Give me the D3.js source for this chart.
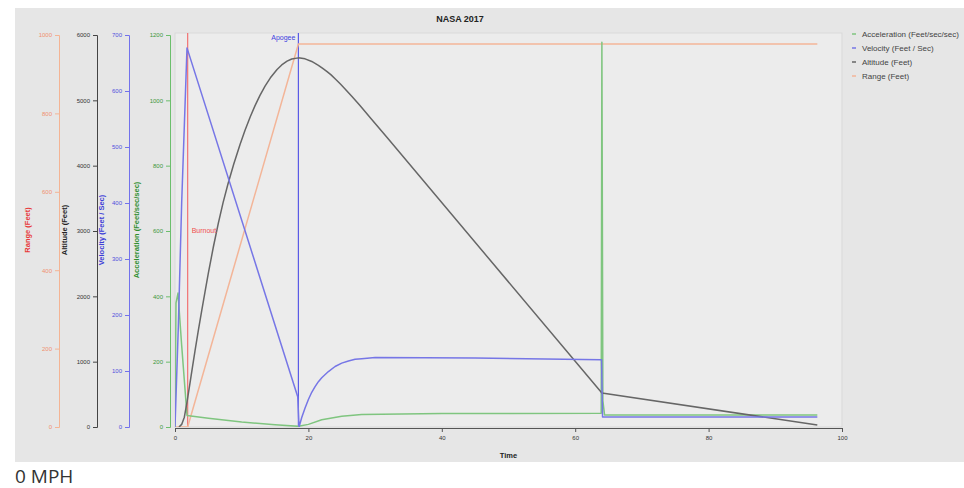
<!DOCTYPE html>
<html>
<head>
<meta charset="utf-8">
<script src="https://cdn.jsdelivr.net/npm/d3@7"></script>
<style>
body { margin: 0; background: #fff; font-family: "Liberation Sans", Arial, sans-serif; }
.mph { position: absolute; left: 15px; top: 463px; font-family: "Open Sans", sans-serif; font-size: 19px; color: #333; }
</style>
</head>
<body>
<div id="chart"></div>
<div class="mph">0 MPH</div>
<script>
var fw = 964, fh = 488;

// series data (time in seconds)
var accTime = [0, 0.15, 0.45, 1.0, 1.8, 5, 10, 15, 18.5, 20, 22, 25, 28, 40, 63.9, 64.0, 64.15, 64.4, 80, 96.3];
var accVals = [0, 380, 410, 250, 35, 27, 15, 7, 2, 8, 22, 33, 38, 41, 42, 1178, 80, 37, 37, 37];

var velTime = [0, 0.5, 1.0, 1.8, 18.4, 18.6, 19, 19.5, 20, 20.5, 21, 21.5, 22, 23, 24, 25, 26, 27, 28, 30, 45, 63.95, 64.1, 80, 96.3];
var velVals = [0, 180, 400, 677, 54, 0, 17, 34, 49, 62, 72, 81, 88, 99, 108, 114, 118, 121, 122, 124, 123, 120, 18, 18, 18];

var altTime = [0.6, 1.0, 1.4, 1.8, 2.2, 2.6, 3, 3.5, 4, 4.5, 5, 5.75, 6.5, 7.2, 7.95, 8.8, 9.75, 10.5, 11.3, 12, 12.74, 13.5, 14.3, 15.3, 16, 16.8, 17.5, 18.5,
	19.5, 20.5, 21.5, 22.2, 22.8, 23.4, 24, 24.8, 25.5, 26.5, 27.7, 29.5, 31.8, 64, 96.3];
var altVals = [0, 40, 150, 380, 640, 905, 1165, 1480, 1779, 2070, 2355, 2755, 3120, 3430, 3724, 4022, 4325, 4543, 4753, 4919, 5076, 5218, 5345, 5473, 5542, 5600, 5633, 5650,
	5635, 5595, 5535, 5485, 5440, 5390, 5330, 5250, 5175, 5062, 4925, 4708, 4430, 520, 30];

var rngTime = [0, 1.9, 18.5, 96.3];
var rngVals = [0, 0, 977, 977];

var eventNames = ["Burnout", "Apogee"];
var eventTimes = [1.9, 18.5];

var legendNames = ["Acceleration (Feet/sec/sec)", "Velocity (Feet / Sec)", "Altitude (Feet)", "Range (Feet)"];

var plot = { left: 175, right: 842, top: 33, bottom: 427 };

var svg = d3.select("#chart")
	.append("svg")
	.attr("width", fw)
	.attr("height", fh);

// backgrounds
svg.append("rect").attr("x", 15).attr("y", 8).attr("width", fw - 15).attr("height", 454).attr("fill", "#e6e6e6");
svg.append("rect")
	.attr("x", plot.left).attr("y", plot.top)
	.attr("width", plot.right - plot.left).attr("height", plot.bottom - plot.top)
	.attr("fill", "#ececec").attr("stroke", "#d9d9d9");

var x = d3.scaleLinear().domain([0, 100]).range([plot.left, plot.right]);
var yAcc = d3.scaleLinear().domain([0, 1200]).range([plot.bottom, 35]);
var yVel = d3.scaleLinear().domain([0, 700]).range([plot.bottom, 35]);
var yAlt = d3.scaleLinear().domain([0, 6000]).range([plot.bottom, 35]);
var yRng = d3.scaleLinear().domain([0, 1000]).range([plot.bottom, 35]);

function yAxis(scale, xpos, step, color, textColor, label, labelColor, labelX) {
	var max = scale.domain()[1];
	var g = svg.append("g").attr("transform", "translate(" + xpos + ",0)");
	g.call(d3.axisLeft(scale).tickValues(d3.range(0, max + 1e-6, step / 5)).tickSize(2).tickFormat(""));
	g.call(d3.axisLeft(scale).tickValues(d3.range(0, max + 1e-6, step)).tickSize(4).tickPadding(3).tickFormat(d3.format("d")));
	g.selectAll("path, line").attr("stroke", color);
	g.selectAll("text").attr("fill", textColor).style("font-size", "6px");
	svg.append("text")
		.attr("transform", "translate(" + labelX + ",230) rotate(-90)")
		.attr("text-anchor", "middle")
		.attr("fill", labelColor)
		.style("font-size", "7.5px")
		.style("font-weight", "bold")
		.text(label);
}

yAxis(yRng, 59, 200, "#f4b494", "#f09070", "Range (Feet)", "#e83838", 30);
yAxis(yAlt, 97, 1000, "#444", "#333", "Altitude (Feet)", "#222", 67);
yAxis(yVel, 129, 100, "#7272ec", "#5050dd", "Velocity (Feet / Sec)", "#3c3cd8", 104);
yAxis(yAcc, 170, 200, "#6cbf6c", "#3c963c", "Acceleration (Feet/sec/sec)", "#2f8f2f", 139);

// x axis
var gx = svg.append("g").attr("transform", "translate(0," + (plot.bottom + 1) + ")");
gx.call(d3.axisBottom(x).tickValues(d3.range(0, 101, 5)).tickSize(2).tickFormat(""));
gx.call(d3.axisBottom(x).tickValues(d3.range(0, 101, 20)).tickSize(4).tickPadding(4));
gx.selectAll("path, line").attr("stroke", "#555");
gx.selectAll("text").attr("fill", "#333").style("font-size", "6px");
svg.append("text")
	.attr("x", (plot.left + plot.right) / 2).attr("y", 458)
	.attr("text-anchor", "middle")
	.style("font-size", "7.5px").style("font-weight", "bold")
	.attr("fill", "#222")
	.text("Time");

// title
svg.append("text")
	.attr("x", 460).attr("y", 22)
	.attr("text-anchor", "middle")
	.style("font-size", "9px").style("font-weight", "bold")
	.attr("fill", "#222")
	.text("NASA 2017");

svg.append("clipPath").attr("id", "clip")
	.append("rect")
	.attr("x", plot.left).attr("y", plot.top)
	.attr("width", plot.right - plot.left).attr("height", plot.bottom - plot.top);

var lines = svg.append("g").attr("clip-path", "url(#clip)");

// event markers
var evColors = ["#f27272", "#5a5ae6"];
eventTimes.forEach(function(t, i) {
	lines.append("line")
		.attr("x1", x(t)).attr("x2", x(t))
		.attr("y1", plot.top).attr("y2", plot.bottom)
		.attr("stroke", evColors[i]).attr("stroke-width", 1.2);
});
svg.append("text")
	.attr("x", x(eventTimes[0]) + 4).attr("y", 233)
	.style("font-size", "7px").attr("fill", "#f05050")
	.text(eventNames[0]);
svg.append("text")
	.attr("x", x(eventTimes[1]) - 3).attr("y", 40)
	.attr("text-anchor", "end")
	.style("font-size", "7px").attr("fill", "#4040e0")
	.text(eventNames[1]);

function drawLine(times, vals, scale, color, width) {
	var line = d3.line()
		.x(function(d) { return x(d[0]); })
		.y(function(d) { return scale(d[1]); });
	lines.append("path")
		.datum(d3.zip(times, vals))
		.attr("d", line)
		.attr("fill", "none")
		.attr("stroke", color)
		.attr("stroke-width", width)
		.attr("stroke-linejoin", "round");
}

drawLine(rngTime, rngVals, yRng, "#f3b598", 1.5);
drawLine(accTime, accVals, yAcc, "#7fc57f", 1.5);
drawLine(altTime, altVals, yAlt, "#666", 1.5);
drawLine(velTime, velVals, yVel, "#7676e6", 1.5);

// legend
var legColors = ["#7fc57f", "#7676e6", "#666", "#f3b598"];
legendNames.forEach(function(name, i) {
	var ly = 34 + i * 14;
	svg.append("line")
		.attr("x1", 852).attr("x2", 856)
		.attr("y1", ly).attr("y2", ly)
		.attr("stroke", legColors[i]).attr("stroke-width", 1.5);
	svg.append("text")
		.attr("x", 862).attr("y", ly + 3)
		.style("font-size", "8px")
		.attr("fill", "#444")
		.text(name);
});
</script>
</body>
</html>
